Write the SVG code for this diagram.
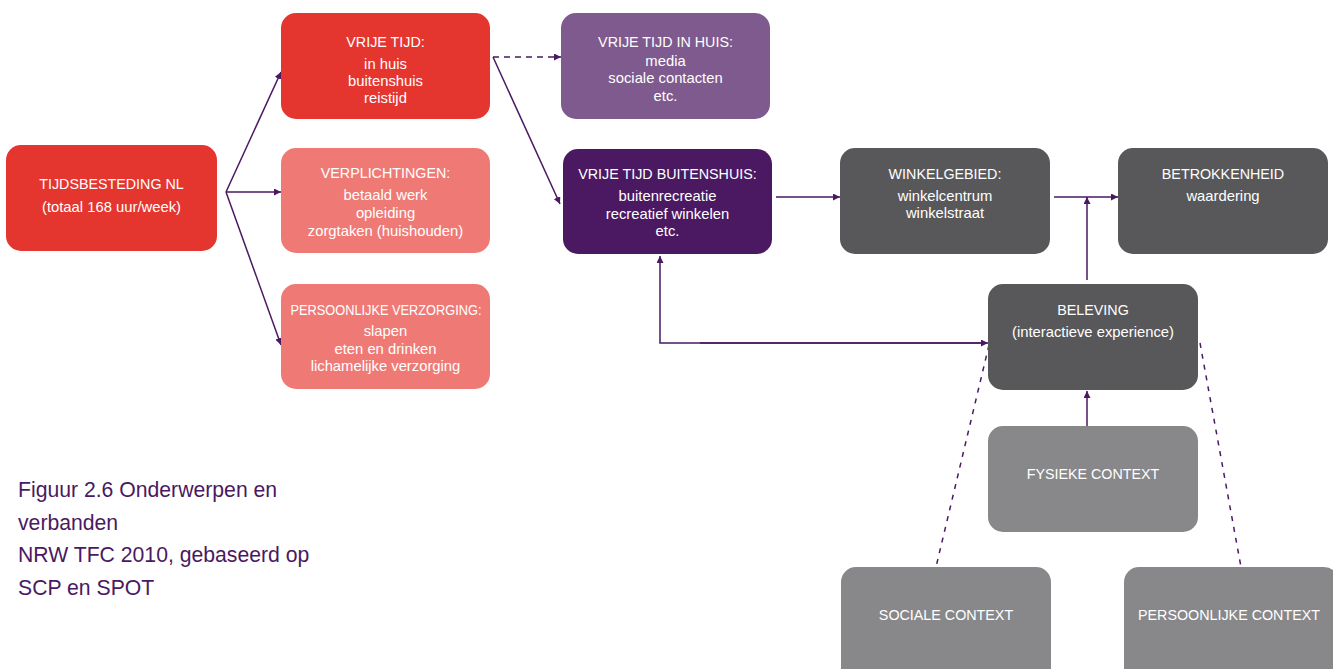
<svg xmlns="http://www.w3.org/2000/svg" width="1333" height="669" viewBox="0 0 1333 669">
<style>
.t{font-family:"Liberation Sans",Arial,sans-serif;font-size:14.8px;fill:#ffffff;text-anchor:middle}
.h{font-size:14.3px}
.cap{font-family:"Liberation Sans",Arial,sans-serif;font-size:21.2px;fill:#4a1961}
.c{stroke:#4a1961;stroke-width:1.5;fill:none}
.d{stroke-dasharray:6 5}
.d2{stroke-dasharray:5 6}
.red{fill:#e5352f}
.pink{fill:#ef7a75}
.lil{fill:#7e5a8f}
.pur{fill:#4a1961}
.dg{fill:#58585a}
.lg{fill:#88888a}
</style>
<defs>
<marker id="ah" viewBox="0 0 10 10" refX="10" refY="5" markerWidth="7" markerHeight="7" markerUnits="userSpaceOnUse" orient="auto">
<path d="M0,0 L10,5 L0,10 z" fill="#4a1961"/>
</marker>
</defs>
<rect width="1333" height="669" fill="#ffffff"/>

<g id="connectors">
<path class="c" d="M226,192 L281,72" marker-end="url(#ah)"/>
<path class="c" d="M226,192 L281,192" marker-end="url(#ah)"/>
<path class="c" d="M226,192 L281,345" marker-end="url(#ah)"/>
<path class="c d" d="M493,57 L561,57" marker-end="url(#ah)"/>
<path class="c" d="M493,57 L560,204" marker-end="url(#ah)"/>
<path class="c" d="M776,197 L840,197" marker-end="url(#ah)"/>
<path class="c" d="M1054,197 L1118,197" marker-end="url(#ah)"/>
<path class="c" d="M1087,280 L1087,197" marker-end="url(#ah)"/>
<path class="c" d="M985,343 L660,343 L660,256" marker-end="url(#ah)"/>
<path class="c" d="M700,343 L988,343" marker-end="url(#ah)"/>
<path class="c" d="M1087,426 L1087,391" marker-end="url(#ah)"/>
<path class="c d2" d="M989,345 L936,567"/>
<path class="c d2" d="M1200,343 L1241,567"/>
</g>

<g id="tijdsbesteding">
<rect class="red" x="6" y="145" width="211" height="106" rx="15"/>
<text class="t h" x="111.5" y="189">TIJDSBESTEDING NL</text>
<text class="t" x="111.5" y="212">(totaal 168 uur/week)</text>
</g>
<g id="vrije-tijd">
<rect class="red" x="281" y="13" width="209" height="106" rx="15"/>
<text class="t h" x="385.5" y="47">VRIJE TIJD:</text>
<text class="t" x="385.5" y="69">in huis</text>
<text class="t" x="385.5" y="86">buitenshuis</text>
<text class="t" x="385.5" y="103">reistijd</text>
</g>
<g id="verplichtingen">
<rect class="pink" x="281" y="148" width="209" height="105" rx="15"/>
<text class="t h" x="385.5" y="178">VERPLICHTINGEN:</text>
<text class="t" x="385.5" y="200">betaald werk</text>
<text class="t" x="385.5" y="218">opleiding</text>
<text class="t" x="385.5" y="236">zorgtaken (huishouden)</text>
</g>
<g id="persoonlijke-verzorging">
<rect class="pink" x="281" y="284" width="209" height="105" rx="15"/>
<text class="t h" x="386" y="315" textLength="191" lengthAdjust="spacingAndGlyphs">PERSOONLIJKE VERZORGING:</text>
<text class="t" x="385.5" y="336">slapen</text>
<text class="t" x="385.5" y="354">eten en drinken</text>
<text class="t" x="385.5" y="371">lichamelijke verzorging</text>
</g>
<g id="vrije-tijd-in-huis">
<rect class="lil" x="561" y="13" width="209" height="106" rx="15"/>
<text class="t h" x="665.5" y="47">VRIJE TIJD IN HUIS:</text>
<text class="t" x="665.5" y="66">media</text>
<text class="t" x="665.5" y="83">sociale contacten</text>
<text class="t" x="665.5" y="101">etc.</text>
</g>
<g id="vrije-tijd-buitenshuis">
<rect class="pur" x="563" y="149" width="209" height="105" rx="15"/>
<text class="t h" x="667.5" y="179">VRIJE TIJD BUITENSHUIS:</text>
<text class="t" x="667.5" y="201">buitenrecreatie</text>
<text class="t" x="667.5" y="219">recreatief winkelen</text>
<text class="t" x="667.5" y="236">etc.</text>
</g>
<g id="winkelgebied">
<rect class="dg" x="840" y="148" width="210" height="106" rx="15"/>
<text class="t h" x="945" y="179">WINKELGEBIED:</text>
<text class="t" x="945" y="201">winkelcentrum</text>
<text class="t" x="945" y="218">winkelstraat</text>
</g>
<g id="betrokkenheid">
<rect class="dg" x="1118" y="148" width="210" height="106" rx="15"/>
<text class="t h" x="1223" y="179">BETROKKENHEID</text>
<text class="t" x="1223" y="201">waardering</text>
</g>
<g id="beleving">
<rect class="dg" x="988" y="284" width="210" height="106" rx="15"/>
<text class="t h" x="1093" y="315">BELEVING</text>
<text class="t" x="1093" y="337">(interactieve experience)</text>
</g>
<g id="fysieke-context">
<rect class="lg" x="988" y="426" width="210" height="106" rx="15"/>
<text class="t h" x="1093" y="479">FYSIEKE CONTEXT</text>
</g>
<g id="sociale-context">
<rect class="lg" x="841" y="567" width="210" height="120" rx="15"/>
<text class="t h" x="946" y="620">SOCIALE CONTEXT</text>
</g>
<g id="persoonlijke-context">
<rect class="lg" x="1124" y="567" width="215" height="120" rx="15"/>
<text class="t h" x="1229" y="620">PERSOONLIJKE CONTEXT</text>
</g>
<g id="caption">
<text class="cap" x="18" y="497">Figuur 2.6 Onderwerpen en</text>
<text class="cap" x="18" y="530">verbanden</text>
<text class="cap" x="18" y="562">NRW TFC 2010, gebaseerd op</text>
<text class="cap" x="18" y="595">SCP en SPOT</text>
</g>
</svg>
